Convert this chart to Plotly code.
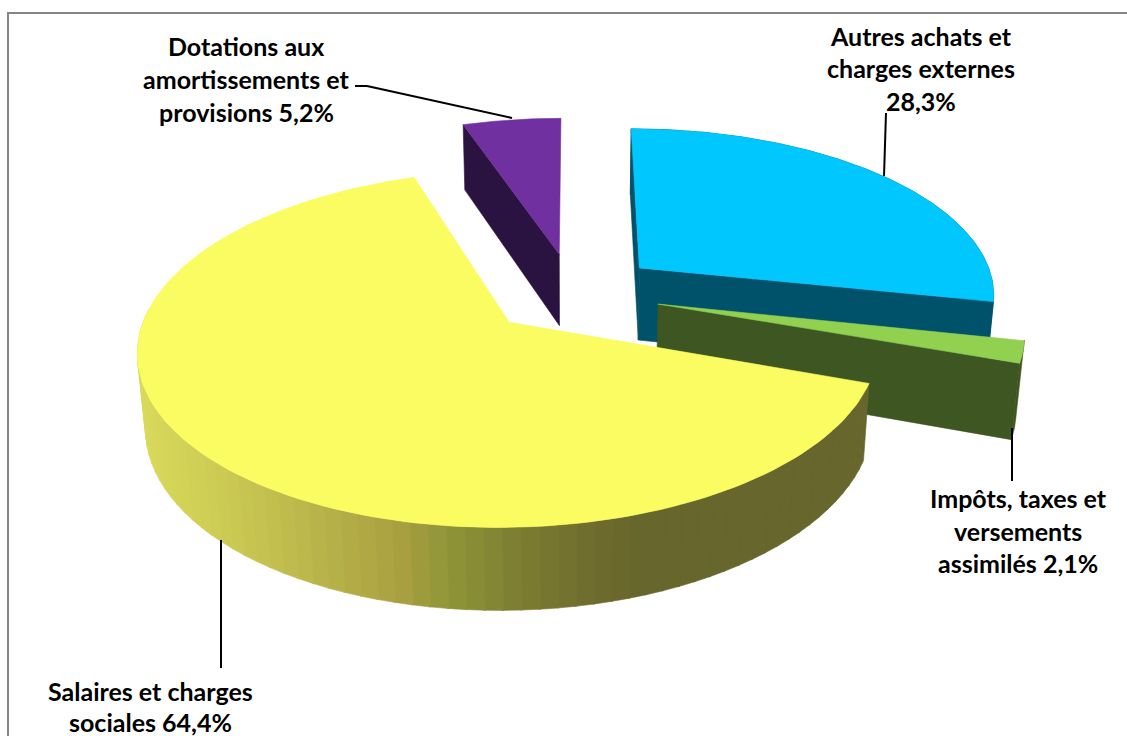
import numpy as np
import plotly.graph_objects as go

# ---- data (clockwise from 12 o'clock) ----
categories = [
    ["Autres achats et", "charges externes"],
    ["Impôts, taxes et", "versements", "assimilés"],
    ["Salaires et charges", "sociales"],
    ["Dotations aux", "amortissements et", "provisions"],
]
values = [28.3, 2.1, 64.4, 5.2]
value_on_own_line = [True, False, False, False]

# ---- style ----
top_colors = ["#00C8FF", "#92D050", "#FBFC62", "#7030A0"]
wall_colors = ["#00516A", "#3E5622", None, "#2B1341"]
label_x = [921, 1018, 150, 246]
label_y = [35.5, 498, 691, 45.5]
line_gap = [32.5, 32.5, 31, 33]
font = dict(family="Lato, Carlito, sans-serif", size=25, color="#000000")

# yellow rim shading: (screen x, r, g, b)
rim_stops = [(140, 218, 218, 92), (220, 205, 205, 85), (300, 190, 186, 76),
             (400, 170, 160, 66), (450, 142, 150, 56), (520, 125, 125, 50),
             (610, 108, 105, 45), (640, 103, 103, 45), (900, 103, 103, 45)]

# ---- camera ----
CX, CY, S = 573.0, 293.0, 357.0
SIN_T, COS_T = 0.465, 0.885
P, Q = 0.145, 0.076
DEPTH = 0.236
EXPLODE = 0.245


def project(X, Y, Z):
    X, Y, Z = np.asarray(X, float), np.asarray(Y, float), np.asarray(Z, float)
    w = 1 + P * Y - Q * Z
    return CX + S * X / w, CY - S * (SIN_T * Y + COS_T * Z) / w


def poly(fig, x, y, color, name):
    fig.add_trace(go.Scatter(
        x=np.round(np.asarray(x), 2).tolist(), y=np.round(np.asarray(y), 2).tolist(),
        mode="lines", fill="toself", fillcolor=color,
        line=dict(color=color, width=0.6), hoverinfo="skip", name=name,
        showlegend=False))


def rim_color(sx):
    xs = [s[0] for s in rim_stops]
    return "rgb(%d,%d,%d)" % tuple(
        np.interp(sx, xs, [s[i] for s in rim_stops]) for i in (1, 2, 3))


total = sum(values)
edges = np.cumsum([0] + values) / total * 2 * np.pi
slices = []
for i in range(len(values)):
    a0, a1 = edges[i], edges[i + 1]
    mid = (a0 + a1) / 2
    ox, oy = EXPLODE * np.sin(mid), EXPLODE * np.cos(mid)
    slices.append(dict(a0=a0, a1=a1, ox=ox, oy=oy))


def arc(sl, n=160):
    t = np.linspace(sl["a0"], sl["a1"], n)
    return t, sl["ox"] + np.sin(t), sl["oy"] + np.cos(t)


def radial_wall(sl, angle):
    X = [sl["ox"], sl["ox"] + np.sin(angle)]
    Y = [sl["oy"], sl["oy"] + np.cos(angle)]
    xt, yt = project(X, Y, [0, 0])
    xb, yb = project(X, Y, [-DEPTH, -DEPTH])
    return np.r_[xt, xb[::-1], xt[0]], np.r_[yt, yb[::-1], yt[0]]


def outer_wall(sl):
    t, X, Y = arc(sl)
    xt, yt = project(X, Y, 0 * X)
    xb, yb = project(X, Y, 0 * X - DEPTH)
    return np.r_[xt, xb[::-1], xt[0]], np.r_[yt, yb[::-1], yt[0]]


def top_face(sl):
    t, X, Y = arc(sl)
    x, y = project(np.r_[sl["ox"], X, sl["ox"]], np.r_[sl["oy"], Y, sl["oy"]], np.zeros(len(X) + 2))
    return x, y


fig = go.Figure()
BLUE, GREEN, YELLOW, PURPLE = 0, 1, 2, 3

# purple
sl = slices[PURPLE]
poly(fig, *radial_wall(sl, sl["a0"]), wall_colors[PURPLE], "purple wall")
poly(fig, *top_face(sl), top_colors[PURPLE], "purple")
# blue
sl = slices[BLUE]
poly(fig, *radial_wall(sl, sl["a0"]), wall_colors[BLUE], "blue wall")
poly(fig, *outer_wall(sl), wall_colors[BLUE], "blue rim")
poly(fig, *radial_wall(sl, sl["a1"]), wall_colors[BLUE], "blue wall")
poly(fig, *top_face(sl), top_colors[BLUE], "blue")
# green
sl = slices[GREEN]
poly(fig, *outer_wall(sl), wall_colors[GREEN], "green rim")
poly(fig, *radial_wall(sl, sl["a1"]), wall_colors[GREEN], "green wall")
poly(fig, *top_face(sl), top_colors[GREEN], "green")
# yellow: shaded rim in bands
sl = slices[YELLOW]
band_edges = np.arange(sl["a0"], np.radians(275), np.radians(2.5))
for b0, b1 in zip(band_edges[:-1], band_edges[1:]):
    t = np.linspace(b0, b1 + 0.004, 6)
    X, Y = sl["ox"] + np.sin(t), sl["oy"] + np.cos(t)
    xt, yt = project(X, Y, 0 * X)
    xb, yb = project(X, Y, 0 * X - DEPTH)
    poly(fig, np.r_[xt, xb[::-1], xt[0]], np.r_[yt, yb[::-1], yt[0]],
         rim_color(xb.mean()), "yellow rim")
poly(fig, *top_face(sl), top_colors[YELLOW], "yellow")

# labels
for i, lines in enumerate(categories):
    pct = f"{values[i]:.1f}".replace(".", ",") + "%"
    rows = list(lines) + [pct] if value_on_own_line[i] else lines[:-1] + [lines[-1] + " " + pct]
    for j, row in enumerate(rows):
        fig.add_annotation(x=label_x[i], y=label_y[i] + j * line_gap[i], text="<b>%s</b>" % row,
                           showarrow=False, xanchor="center", yanchor="middle", font=font)

leader = dict(type="line", line=dict(color="#000000", width=2), layer="above")
frame = dict(type="line", line=dict(color="#868686", width=2), layer="below")
shapes = [
    dict(frame, x0=8, y0=13, x1=8, y1=736),
    dict(frame, x0=7, y0=13, x1=1127, y1=13),
    dict(leader, x0=355, y0=86, x1=367, y1=86),
    dict(leader, x0=367, y0=86, x1=512, y1=118),
    dict(leader, x0=886, y0=113, x1=884, y1=176),
    dict(leader, x0=1012, y0=428, x1=1012, y1=481),
    dict(leader, x0=221, y0=540, x1=221, y1=668),
]

fig.update_layout(
    width=1127, height=736, margin=dict(l=0, r=0, t=0, b=0),
    paper_bgcolor="#FFFFFF", plot_bgcolor="#FFFFFF", showlegend=False, shapes=shapes,
    xaxis=dict(range=[0, 1127], visible=False, fixedrange=True),
    yaxis=dict(range=[736, 0], visible=False, fixedrange=True),
)
fig.write_html("out.html", config=dict(displayModeBar=False),
               post_script="document.body.style.margin='0';document.body.style.overflow='hidden';")
